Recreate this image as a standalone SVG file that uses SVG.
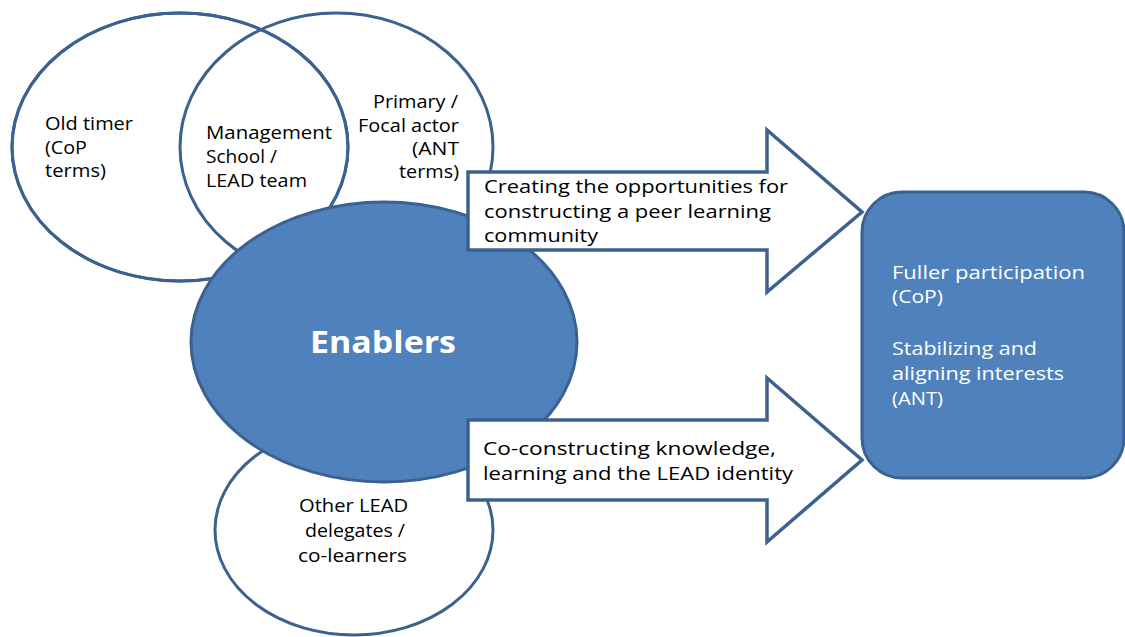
<svg xmlns="http://www.w3.org/2000/svg" width="1125" height="637" viewBox="0 0 1125 637">
<style>
.ring{fill:none;stroke:#3B6191;stroke-width:3}
.blue{fill:#4F81BD;stroke:#3B6191;stroke-width:3}
.arrow{fill:#FFFFFF;stroke:#3B6191;stroke-width:3.5;stroke-linejoin:miter}
.t{font-family:"Open Sans","Liberation Sans",sans-serif;font-size:18px;fill:#000}
.w{font-family:"Open Sans","Liberation Sans",sans-serif;font-size:18px;fill:#FFFFFF}
.big{font-family:"Open Sans","Liberation Sans",sans-serif;font-size:31px;font-weight:bold;fill:#FFFFFF}
</style>
<rect width="1125" height="637" fill="#FFFFFF"/>
<g id="old-timer">
<ellipse class="ring" cx="180" cy="147" rx="168" ry="134" fill="#FFFFFF"/>
</g>
<g id="primary-actor">
<ellipse class="ring" cx="336.5" cy="147" rx="156.5" ry="134"/>
<ellipse class="ring" cx="180" cy="147" rx="168" ry="134"/>
<text class="t" x="45" y="130" textLength="88" lengthAdjust="spacingAndGlyphs">Old timer</text>
<text class="t" x="45" y="154" textLength="42" lengthAdjust="spacingAndGlyphs">(CoP</text>
<text class="t" x="45" y="177" textLength="61" lengthAdjust="spacingAndGlyphs">terms)</text>
<text class="t" x="206" y="139" textLength="126" lengthAdjust="spacingAndGlyphs">Management</text>
<text class="t" x="206" y="163" textLength="71" lengthAdjust="spacingAndGlyphs">School /</text>
<text class="t" x="206" y="187" textLength="101" lengthAdjust="spacingAndGlyphs">LEAD team</text>
<text class="t" x="373" y="108" textLength="85" lengthAdjust="spacingAndGlyphs">Primary /</text>
<text class="t" x="358" y="132" textLength="101" lengthAdjust="spacingAndGlyphs">Focal actor</text>
<text class="t" x="412" y="155" textLength="47" lengthAdjust="spacingAndGlyphs">(ANT</text>
<text class="t" x="399" y="178" textLength="60" lengthAdjust="spacingAndGlyphs">terms)</text>
</g>
<g id="other-delegates">
<ellipse class="ring" cx="354" cy="530" rx="139" ry="105" fill="#FFFFFF"/>
<text class="t" x="299" y="512" textLength="109" lengthAdjust="spacingAndGlyphs">Other LEAD</text>
<text class="t" x="305" y="537" textLength="100" lengthAdjust="spacingAndGlyphs">delegates /</text>
<text class="t" x="298" y="562" textLength="109" lengthAdjust="spacingAndGlyphs">co-learners</text>
</g>
<g id="enablers">
<ellipse class="blue" cx="384" cy="342" rx="193" ry="140"/>
<text class="big" x="310" y="353" textLength="146" lengthAdjust="spacingAndGlyphs">Enablers</text>
</g>
<g id="connectors">
<g id="arrow-top">
<polygon class="arrow" points="468,172 767,172 767,130 862,212 767,292 767,250 468,250"/>
<text class="t" x="484" y="193" textLength="304" lengthAdjust="spacingAndGlyphs">Creating the opportunities for</text>
<text class="t" x="484" y="218" textLength="287" lengthAdjust="spacingAndGlyphs">constructing a peer learning</text>
<text class="t" x="484" y="242" textLength="114" lengthAdjust="spacingAndGlyphs">community</text>
</g>
<g id="arrow-bottom">
<polygon class="arrow" points="468,420 767,420 767,378 862,460 767,542 767,500 468,500"/>
<text class="t" x="483" y="455" textLength="293" lengthAdjust="spacingAndGlyphs">Co-constructing knowledge,</text>
<text class="t" x="483" y="480" textLength="310" lengthAdjust="spacingAndGlyphs">learning and the LEAD identity</text>
</g>
</g>
<g id="outcome">
<rect class="blue" x="862" y="192" width="262" height="286" rx="40" ry="40"/>
<text class="w" x="892" y="279" textLength="193" lengthAdjust="spacingAndGlyphs">Fuller participation</text>
<text class="w" x="892" y="303" textLength="51" lengthAdjust="spacingAndGlyphs">(CoP)</text>
<text class="w" x="892" y="355" textLength="145" lengthAdjust="spacingAndGlyphs">Stabilizing and</text>
<text class="w" x="892" y="380" textLength="172" lengthAdjust="spacingAndGlyphs">aligning interests</text>
<text class="w" x="892" y="405" textLength="51" lengthAdjust="spacingAndGlyphs">(ANT)</text>
</g>
</svg>
